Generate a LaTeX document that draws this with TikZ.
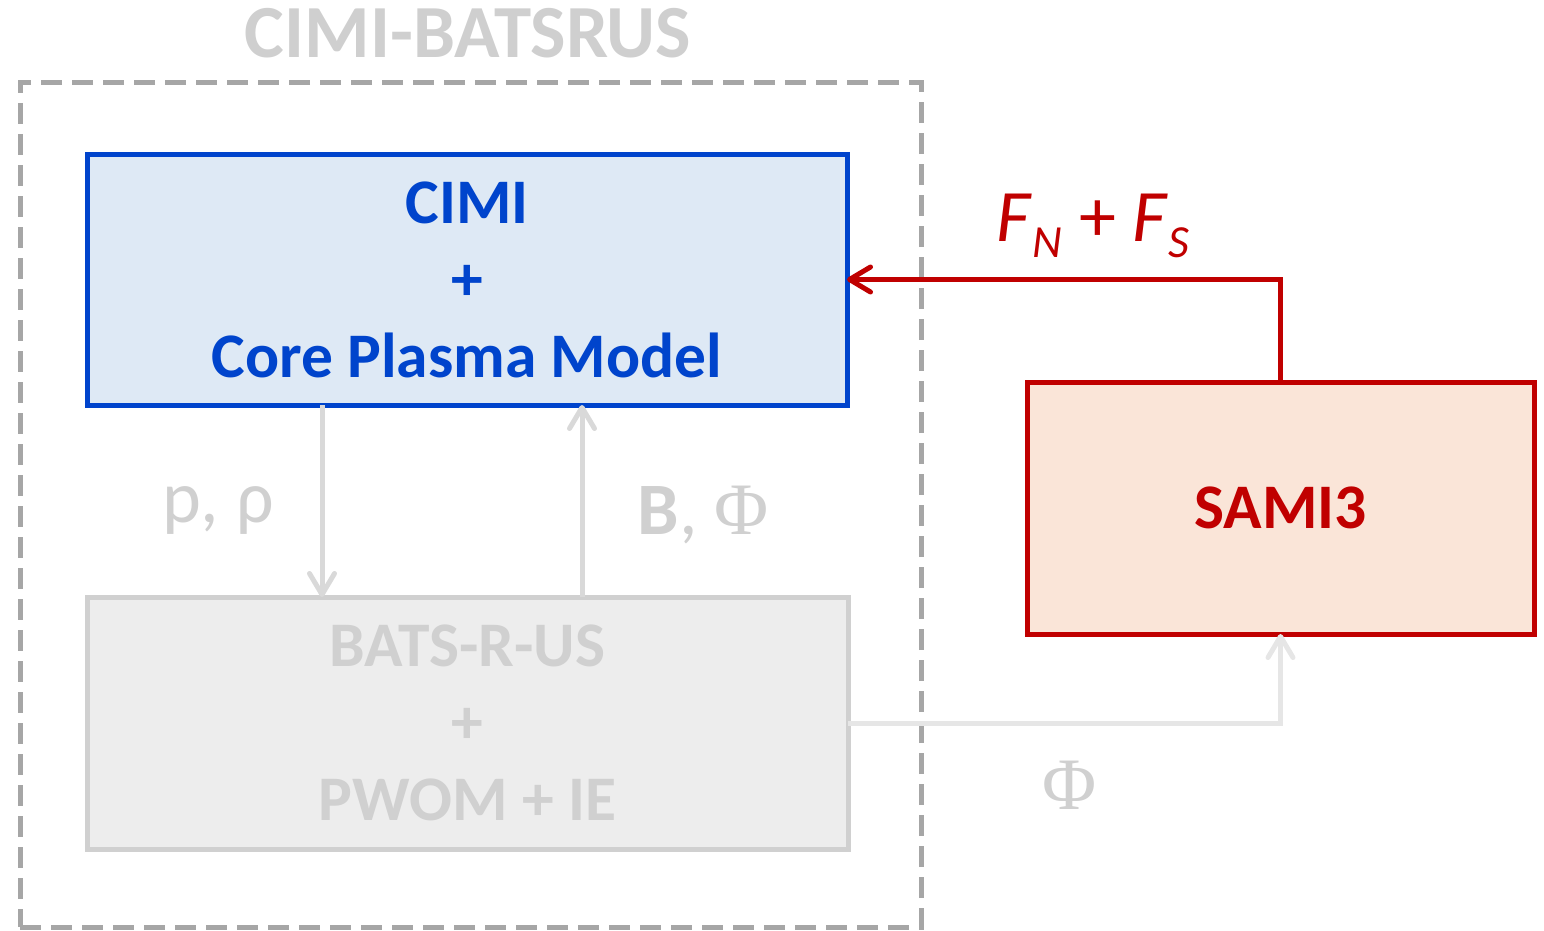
\documentclass[tikz,border=0pt]{standalone}
\usepackage{fontspec}
\setmainfont{Carlito}
\newfontfamily\phifont{Liberation Serif}
\usetikzlibrary{arrows.meta}
\definecolor{cimiblue}{HTML}{0044CC}
\definecolor{cimifill}{HTML}{DEE9F5}
\definecolor{samired}{HTML}{C00000}
\definecolor{samifill}{HTML}{FAE5D8}
\definecolor{batsfill}{HTML}{EDEDED}
\definecolor{batsgray}{HTML}{D0D0D0}
\definecolor{titlegray}{HTML}{CFCFCF}
\definecolor{dashgray}{HTML}{A6A6A6}
\definecolor{arrowgray}{HTML}{D9D9D9}
\definecolor{phigray}{HTML}{E6E6E6}
\tikzset{
  model/.style={draw, line width=5pt, inner sep=0pt, outer sep=0pt, align=center,
    font=\bfseries\fontsize{63.5}{77}\selectfont},
  barb/.style={-{Straight Barb[length=21pt,width=25pt,line cap=round,line join=round]}, line width=5pt},
  lbl/.style={inner sep=0pt, font=\fontsize{74}{74}\selectfont},
}
\begin{document}
\begin{tikzpicture}[x=1pt,y=-1pt]
\useasboundingbox (0,0) rectangle (1544,931);
% outer dashed frame
\node[draw=dashgray, line width=5pt, dash pattern=on 21pt off 10pt,
  minimum width=901pt, minimum height=844pt, inner sep=0pt, outer sep=0pt] (frame) at (470.5,505) {};
\node[lbl, text=titlegray, font=\bfseries\fontsize{75}{75}\selectfont] (title) at (468,33) {CIMI-BATSRUS};
% models
\node[model, draw=cimiblue, fill=cimifill, text=cimiblue, minimum width=760pt, minimum height=251pt]
  (cimi) at (467,279.5) {CIMI\\+\\Core Plasma Model};
\node[model, draw=batsgray, fill=batsfill, text=batsgray, minimum width=761pt, minimum height=252pt]
  (bats) at (467.5,723) {BATS-R-US\\+\\PWOM + IE};
\node[model, draw=samired, fill=samifill, text=samired, minimum width=507pt, minimum height=252pt]
  (sami) at (1280.5,508) {SAMI3};
% connectors
\coordinate (downx) at (322,0);
\coordinate (upx) at (582,0);
\draw[barb, arrowgray] (cimi.south -| downx) -- (bats.north -| downx);
\draw[barb, arrowgray] (bats.north -| upx) -- (cimi.south -| upx);
\draw[barb, samired] (sami.north) |- (cimi.east);
\draw[barb, phigray] (bats.east) -| (sami.south);
% labels
\node[lbl, text=batsgray] (prho) at (218,510) {p, ρ};
\node[lbl, text=batsgray] (bphi) at (703,515) {\textbf{B}, {\phifont Φ}};
\node[lbl, text=batsgray] (phi) at (1070,785) {\phifont Φ};
\node[lbl, text=samired] (flux) at (1093,226)
  {\textit{F}\raisebox{-16pt}{\fontsize{46}{46}\selectfont\textit{N}} + \textit{F}\raisebox{-16pt}{\fontsize{46}{46}\selectfont\textit{S}}};
\end{tikzpicture}
\end{document}
